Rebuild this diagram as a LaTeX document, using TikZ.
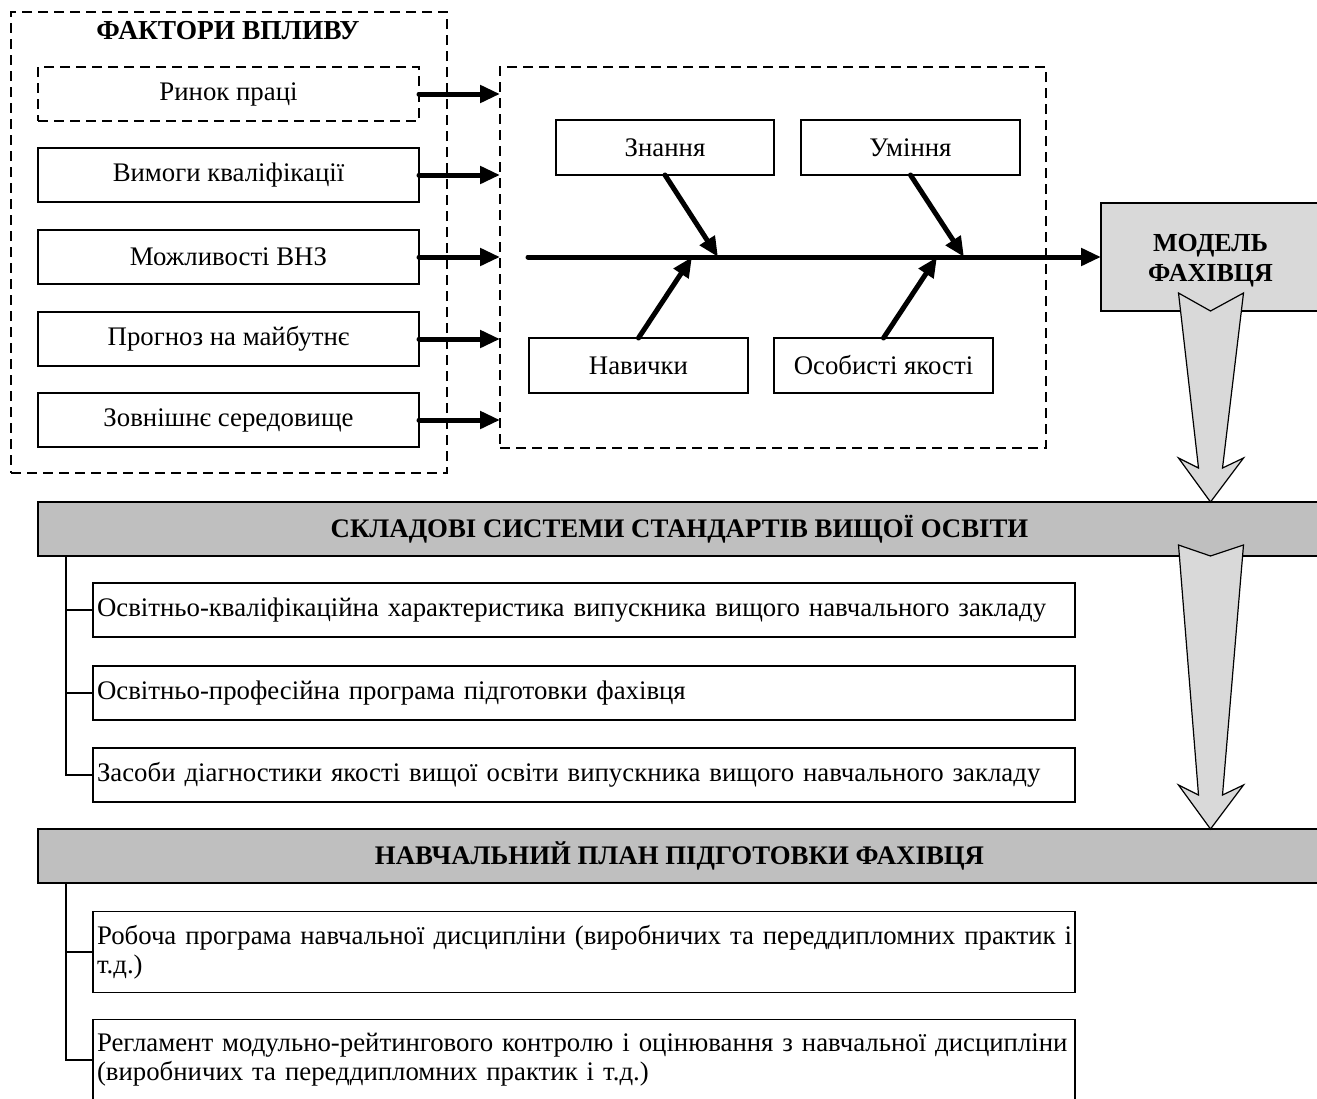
\documentclass[tikz,border=0pt]{standalone}
\usepackage{fontspec}
\setmainfont{Liberation Serif}
\usetikzlibrary{arrows.meta,calc}
\definecolor{bandgray}{HTML}{BFBFBF}
\definecolor{palegray}{HTML}{D9D9D9}

% wide hollow down-arrow: #1 = notch of the tail, #2 = tip, #3 = depth of the notch
\newcommand{\HollowDown}[3]{%
  \draw[hollow] ($(#1)+(-32,-#3)$) -- (#1) -- ($(#1)+(33,-#3)$)
    -- ($(#2)+(12,-34)$) -- ($(#2)+(33,-44)$) -- (#2)
    -- ($(#2)+(-32,-44)$) -- ($(#2)+(-12,-34)$) -- cycle;}

\begin{document}
\begin{tikzpicture}[x=1pt,y=-1pt,
  every node/.style={font=\fontsize{26.8}{29}\selectfont, inner sep=0pt, outer sep=0pt},
  boldtext/.style={font=\fontsize{26.8}{30}\selectfont\bfseries},
  box/.style={draw, line width=1.8pt, rectangle, minimum height=54pt},
  dbox/.style={draw, line width=1.8pt, rectangle, dash pattern=on 10pt off 6pt},
  factor/.style={box, minimum width=381pt},
  fishbox/.style={box, minimum height=55pt},
  item/.style={box, minimum width=982pt, inner xsep=4pt, text width=974pt, align=left},
  band/.style={draw, line width=1.8pt, fill=bandgray, minimum width=1283pt, minimum height=54pt, boldtext},
  hollow/.style={draw, line width=1.2pt, fill=palegray, line join=miter},
  bigarrow/.style={line width=5pt, line cap=round, -{Triangle[length=20pt,width=17pt]}},
  tree/.style={line width=1.8pt}
]
\useasboundingbox (0,0) rectangle (1317,1098);
\fill[white] (0,0) rectangle (1317,1098);
\clip (0,0) rectangle (1317,1098);

% ---------- factors of influence ----------
\node[dbox, minimum width=436pt, minimum height=461pt] (factors) at (229,242.5) {};
\node[boldtext, font=\fontsize{27.4}{30}\selectfont\bfseries] (ftitle) at (228,31) {ФАКТОРИ ВПЛИВУ};
\node[factor, dash pattern=on 10pt off 6pt] (f1) at (228.5,94) {Ринок праці};
\node[factor] (f2) at (228.5,175) {Вимоги кваліфікації};
\node[factor] (f3) at (228.5,257) {Можливості ВНЗ};
\node[factor] (f4) at (228.5,339) {Прогноз на майбутнє};
\node[factor] (f5) at (228.5,420) {Зовнішнє середовище};

% ---------- fishbone of competences ----------
\node[dbox, minimum width=546pt, minimum height=381pt] (fish) at (773,257.5) {};
\foreach \i in {1,...,5}
  \draw[bigarrow] (f\i.east) -- (f\i.east -| fish.west);

\node[fishbox, minimum width=218pt] (zn) at (665,147.5) {Знання};
\node[fishbox, minimum width=219pt] (um) at (910.5,147.5) {Уміння};
\node[fishbox, minimum width=219pt] (nv) at (638.5,365.5) {Навички};
\node[fishbox, minimum width=219pt] (oy) at (883.5,365.5) {Особисті якості};

\node[box, fill=palegray, minimum width=219pt, minimum height=108pt] (model) at (1210.5,257) {};
\node[boldtext, font=\fontsize{26}{30}\selectfont\bfseries, align=center] (mtext)
  at ($(model.center)+(0,4)$) {МОДЕЛЬ\\ФАХІВЦЯ};

\coordinate (spine) at (528,257);
\draw[bigarrow] (spine) -- (model.west);
\draw[bigarrow] (zn.south) -- ($(zn.south |- spine)+(53,0)$);
\draw[bigarrow] (um.south) -- ($(um.south |- spine)+(53.5,0)$);
\draw[bigarrow] (nv.north) -- ($(nv.north |- spine)+(53.5,0)$);
\draw[bigarrow] (oy.north) -- ($(oy.north |- spine)+(53.5,0)$);

% ---------- standards of higher education ----------
\node[band] (b1) at (679.5,529) {СКЛАДОВІ СИСТЕМИ СТАНДАРТІВ ВИЩОЇ ОСВІТИ};
\node[item] (i1) at (584,610) {\mbox{Освітньо-кваліфікаційна характеристика випускника вищого навчального закладу}};
\node[item] (i2) at (584,693) {\mbox{Освітньо-професійна програма підготовки фахівця}};
\node[item] (i3) at (584,775) {\mbox{Засоби діагностики якості вищої освіти випускника вищого навчального закладу}};
\coordinate (r1) at ($(b1.south west)+(28,0)$);
\draw[tree] (r1) |- (i3.west);
\draw[tree] (r1 |- i1.west) -- (i1.west);
\draw[tree] (r1 |- i2.west) -- (i2.west);

% ---------- curriculum ----------
\node[band] (b2) at (679.5,856) {НАВЧАЛЬНИЙ ПЛАН ПІДГОТОВКИ ФАХІВЦЯ};
\node[item, minimum height=81pt] (i4) at (584,952)
  {\mbox{Робоча програма навчальної дисципліни (виробничих та переддипломних практик і}\\\mbox{т.д.)}};
\node[item, minimum height=81pt] (i5) at (584,1060)
  {\mbox{Регламент модульно-рейтингового контролю і оцінювання з навчальної дисципліни}\\\mbox{(виробничих та переддипломних практик і т.д.)}};
\coordinate (r2) at ($(b2.south west)+(28,0)$);
\draw[tree] (r2) |- (i5.west);
\draw[tree] (r2 |- i4.west) -- (i4.west);

% ---------- wide transition arrows ----------
\HollowDown{model.south}{model.south |- b1.north}{18}
\HollowDown{model.south |- b1.south}{model.south |- b2.north}{11}
\end{tikzpicture}
\end{document}
